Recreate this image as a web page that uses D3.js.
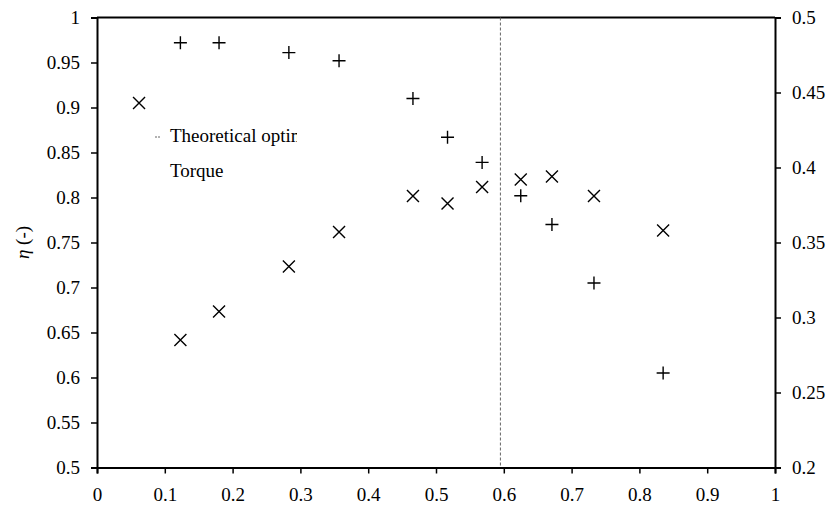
<!DOCTYPE html>
<html lang="en">
<head>
  <meta charset="UTF-8">
  <title>Efficiency and torque</title>
  <script src="https://d3js.org/d3.v7.min.js"></script>
  <style>
    body { margin: 0; background: #fff; }
    text { font-family: "Liberation Serif", "Times New Roman", serif; }
  </style>
</head>
<body>
<script type="text/javascript">
    // data
    var xEff = [0.123, 0.180, 0.283, 0.357, 0.466, 0.517, 0.568, 0.625, 0.671, 0.733, 0.835];
    var effValues = [0.972, 0.972, 0.961, 0.952, 0.910, 0.867, 0.839, 0.802, 0.770, 0.705, 0.605];
    var xTorque = [0.062, 0.123, 0.180, 0.283, 0.357, 0.466, 0.517, 0.568, 0.625, 0.671, 0.733, 0.835];
    var torqueValues = [0.443, 0.285, 0.304, 0.334, 0.357, 0.381, 0.376, 0.387, 0.392, 0.394, 0.381, 0.358];
    var optimumX = [0.595];
    var xTicks = [0, 0.1, 0.2, 0.3, 0.4, 0.5, 0.6, 0.7, 0.8, 0.9, 1];
    var leftTicks = [0.5, 0.55, 0.6, 0.65, 0.7, 0.75, 0.8, 0.85, 0.9, 0.95, 1];
    var rightTicks = [0.2, 0.25, 0.3, 0.35, 0.4, 0.45, 0.5];
    var legendLabels = ["Theoretical optimum", "Torque"];

    var width = 827, height = 509;
    var plotL = 97, plotR = 775, plotT = 17.5, plotB = 467.5;

    var svg = d3.select("body").append("svg")
                .attr("width", width)
                .attr("height", height);

    var x = d3.scaleLinear().domain([0, 1]).range([plotL, plotR]);
    var yL = d3.scaleLinear().domain([0.5, 1]).range([plotB, plotT]);
    var yR = d3.scaleLinear().domain([0.2, 0.5]).range([plotB, plotT]);

    function fmt(d){ return d3.format("~g")(d); }

    // top border
    svg.append("line")
       .attr("x1", plotL).attr("x2", plotR)
       .attr("y1", plotT).attr("y2", plotT)
       .attr("stroke", "#000").attr("stroke-width", 2);

    // theoretical optimum line
    svg.selectAll(".opt")
       .data(optimumX)
       .enter()
       .append("line")
       .attr("class", "opt")
       .attr("x1", function(d){return x(d);})
       .attr("x2", function(d){return x(d);})
       .attr("y1", plotT).attr("y2", plotB)
       .attr("stroke", "#666")
       .attr("stroke-width", 1)
       .attr("stroke-dasharray", "3,2");

    var gx = svg.append("g")
       .attr("transform", "translate(0," + plotB + ")")
       .call(d3.axisBottom(x).tickValues(xTicks).tickFormat(fmt).tickSize(6).tickPadding(14));
    var gl = svg.append("g")
       .attr("transform", "translate(" + plotL + ",0)")
       .call(d3.axisLeft(yL).tickValues(leftTicks).tickFormat(fmt).tickSize(6).tickPadding(11));
    var gr = svg.append("g")
       .attr("transform", "translate(" + plotR + ",0)")
       .call(d3.axisRight(yR).tickValues(rightTicks).tickFormat(fmt).tickSize(6).tickPadding(11));

    [gx, gl, gr].forEach(function(g){
      g.select(".domain").attr("stroke", "#000").attr("stroke-width", 2);
      g.selectAll(".tick line").attr("stroke", "#000").attr("stroke-width", 1.5);
      g.selectAll(".tick text").attr("fill", "#000").style("font-size", "19px")
        .style("font-family", "'Liberation Serif', serif");
    });

    // y axis title
    var title = svg.append("text")
       .attr("transform", "translate(29," + ((plotT + plotB) / 2) + ") rotate(-90)")
       .attr("text-anchor", "middle")
       .style("font-size", "19px");
    title.append("tspan").style("font-style", "italic").text("\u03b7");
    title.append("tspan").text(" (-)");

    // efficiency (+) on left axis
    var effPts = d3.zip(xEff, effValues);
    svg.selectAll(".eff")
       .data(effPts)
       .enter()
       .append("path")
       .attr("class", "eff")
       .attr("transform", function(d){return "translate(" + x(d[0]) + "," + yL(d[1]) + ")";})
       .attr("d", "M-6.5,0H6.5M0,-6.5V6.5")
       .attr("stroke", "#000")
       .attr("stroke-width", 1.4)
       .attr("fill", "none");

    // torque (x) on right axis
    var torquePts = d3.zip(xTorque, torqueValues);
    svg.selectAll(".torque")
       .data(torquePts)
       .enter()
       .append("path")
       .attr("class", "torque")
       .attr("transform", function(d){return "translate(" + x(d[0]) + "," + yR(d[1]) + ")";})
       .attr("d", "M-6,-6L6,6M-6,6L6,-6")
       .attr("stroke", "#000")
       .attr("stroke-width", 1.4)
       .attr("fill", "none");

    // legend, clipped like the original
    svg.append("clipPath").attr("id", "legclip")
       .append("rect").attr("x", 140).attr("y", 110).attr("width", 157).attr("height", 80);
    var leg = svg.append("g").attr("clip-path", "url(#legclip)");
    leg.append("line")
       .attr("x1", 155).attr("x2", 161).attr("y1", 137).attr("y2", 137)
       .attr("stroke", "#666").attr("stroke-dasharray", "2,1");
    leg.selectAll(".legtext")
       .data(legendLabels)
       .enter()
       .append("text")
       .attr("class", "legtext")
       .attr("x", 170)
       .attr("y", function(d, i){return 142 + i * 35;})
       .style("font-size", "19px")
       .attr("fill", "#000")
       .text(function(d){return d;});
</script>
</body>
</html>
